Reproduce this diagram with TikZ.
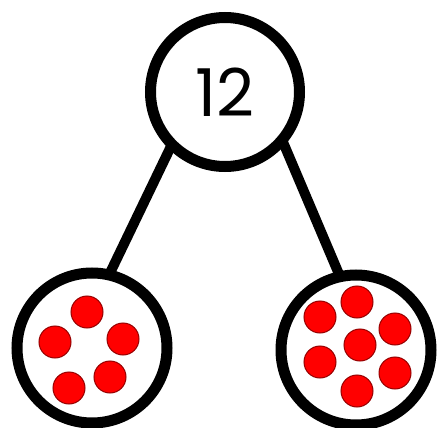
\documentclass[tikz,border=0pt]{standalone}
\usepackage{fontspec}
\setmainfont{Poppins}
\pgfdeclarelayer{bg}
\pgfsetlayers{bg,main}
\begin{document}
\begin{tikzpicture}[x=1pt,y=-1pt,
  ring/.style={circle,draw=black,line width=11pt,fill=white,minimum size=#1,inner sep=0pt},
  dot/.style={circle,fill=red,draw={rgb,255:red,150;green,0;blue,0},line width=1pt,minimum size=32pt,inner sep=0pt},
  link/.style={line width=10pt,black,shorten <=-8pt,shorten >=-8pt}]
\useasboundingbox (0,0) rectangle (437,428);
\node[ring=149pt,font=\fontsize{66}{66}\selectfont] (top) at (225,92) {12};
\node[ring=150pt] (left) at (92,348) {};
\node[ring=150pt] (right) at (356,350) {};
\begin{pgfonlayer}{bg}
\draw[link] (top.-134) -- (left.76);
\draw[link] (top.-42) -- (right.103);
\end{pgfonlayer}
% left dots
\node[dot] (l1) at (87,312) {};
\node[dot] (l2) at (55,342) {};
\node[dot] (l3) at (123,339) {};
\node[dot] (l4) at (69,388) {};
\node[dot] (l5) at (110,377) {};
% right dots
\node[dot] (r1) at (357,302) {};
\node[dot] (r2) at (320,317) {};
\node[dot] (r3) at (395,329) {};
\node[dot] (r4) at (360,345) {};
\node[dot] (r5) at (320,362) {};
\node[dot] (r6) at (395,373) {};
\node[dot] (r7) at (357,391) {};
\end{tikzpicture}
\end{document}
